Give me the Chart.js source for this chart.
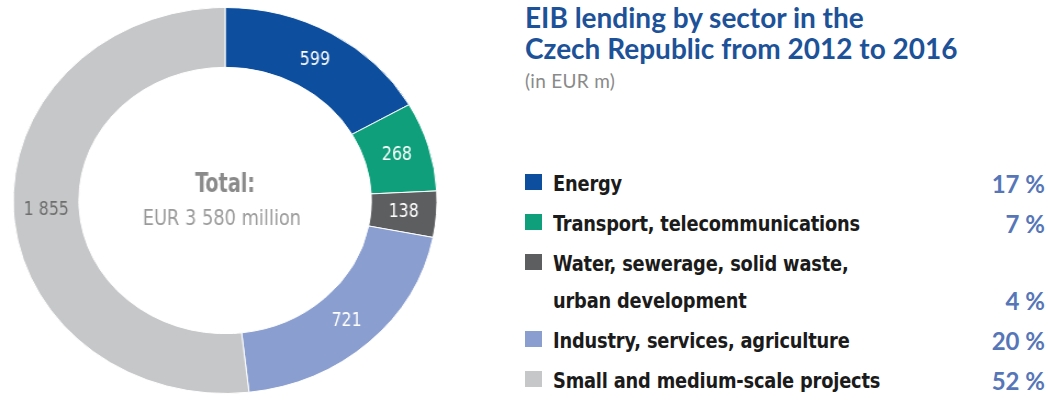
<!DOCTYPE html>
<html>
<head>
<meta charset="utf-8">
<script src="https://cdn.jsdelivr.net/npm/chart.js@4/dist/chart.umd.min.js"></script>
<style>
  body { margin: 0; background: #fff; width: 1048px; height: 401px; overflow: hidden; position: relative; }
  #ring { position: absolute; left: 0; top: 0; transform: scaleX(1.098); transform-origin: 0 0; }
  #title { position: absolute; left: 525px; top: 2px; color: #1d5299; font: bold 28px/31px Lato, sans-serif; }
  #unit { position: absolute; left: 525px; top: 69px; color: #8a8a8a; font: 19px Lato, sans-serif; letter-spacing: 0.3px; }
  #legend { position: absolute; left: 525px; top: 165px; width: 520px; }
  .row { display: flex; align-items: flex-end; margin-bottom: 3px; line-height: 37px; }
  .sw { width: 17px; height: 16px; align-self: flex-start; margin-top: 9px; margin-right: 11px; flex: none; }
  .lab { flex: 1; font: bold 22px/37px "DejaVu Sans Condensed", sans-serif; letter-spacing: -0.2px; color: #1b1b1b; }
  .lab span { display: inline-block; transform: scaleX(0.9); transform-origin: 0 50%; white-space: nowrap; }
  .pct { font: bold 24px/37px Lato, sans-serif; color: #5676b8; }
</style>
</head>
<body>
<canvas id="ring" width="410" height="401"></canvas>
<div id="title">EIB lending by sector in the<br>Czech Republic from 2012 to 2016</div>
<div id="unit">(in EUR m)</div>
<div id="legend"></div>
<script>
const sectors = [
  'Energy',
  'Transport, telecommunications',
  ['Water, sewerage, solid waste,', 'urban development'],
  'Industry, services, agriculture',
  'Small and medium-scale projects'
];
const amounts = [599, 268, 138, 721, 1855];
const shares = [17, 7, 4, 20, 52];
const colours = ['#0d4f9e', '#0fa07b', '#5d5e60', '#8a9ecf', '#c6c7c9'];
const totalText = ['Total:', 'EUR 3 580 million'];

const narrow = '"DejaVu Sans Condensed", sans-serif';

function fmt(v) {
  return String(v).replace(/\B(?=(\d{3})+(?!\d))/g, ' ');
}

// draw text squeezed sideways, the source uses a condensed face
function squeezed(ctx, text, x, y, sx) {
  ctx.save();
  ctx.translate(x, y);
  ctx.scale(sx, 1);
  ctx.fillText(text, 0, 0);
  ctx.restore();
}

// labels in the ring and the total in the hole
const ringText = {
  id: 'ringText',
  afterDatasetsDraw(chart) {
    const ctx = chart.ctx;
    const meta = chart.getDatasetMeta(0);
    ctx.save();
    ctx.textAlign = 'center';
    ctx.textBaseline = 'middle';
    ctx.font = '20px ' + narrow;
    meta.data.forEach((arc, i) => {
      const p = arc.getCenterPoint();
      ctx.fillStyle = i === 4 ? '#6e6e6e' : '#ffffff';
      squeezed(ctx, fmt(amounts[i]), p.x, p.y, 0.8);
    });
    const c = meta.data[0];
    ctx.fillStyle = '#8a8a8a';
    ctx.font = 'bold 26px ' + narrow;
    squeezed(ctx, totalText[0], c.x, c.y - 15, 0.75);
    ctx.fillStyle = '#9a9a9a';
    ctx.font = '22px ' + narrow;
    squeezed(ctx, totalText[1], c.x - 3, c.y + 19, 0.82);
    ctx.restore();
  }
};

const data = {
  labels: sectors.map(s => Array.isArray(s) ? s.join(' ') : s),
  datasets: [{
    data: amounts,
    backgroundColor: colours,
    borderColor: '#ffffff',
    borderWidth: 1
  }]
};

const config = {
  type: 'doughnut',
  data: data,
  options: {
    responsive: false,
    animation: false,
    cutout: '69%',
    layout: { padding: { top: 7, bottom: 7, left: 0, right: 0 } },
    plugins: {
      legend: { display: false },
      tooltip: { enabled: false }
    }
  },
  plugins: [ringText]
};

const myChart = new Chart(document.getElementById('ring'), config);

// legend on the right
const legend = document.getElementById('legend');
sectors.forEach((s, i) => {
  const row = document.createElement('div');
  row.className = 'row';
  const sw = document.createElement('div');
  sw.className = 'sw';
  sw.style.background = colours[i];
  const lab = document.createElement('div');
  lab.className = 'lab';
  const lines = Array.isArray(s) ? s : [s];
  lab.innerHTML = lines.map(t => '<span>' + t + '</span>').join('<br>');
  const pct = document.createElement('div');
  pct.className = 'pct';
  pct.textContent = shares[i] + ' %';
  row.append(sw, lab, pct);
  legend.appendChild(row);
});
</script>
</body>
</html>
